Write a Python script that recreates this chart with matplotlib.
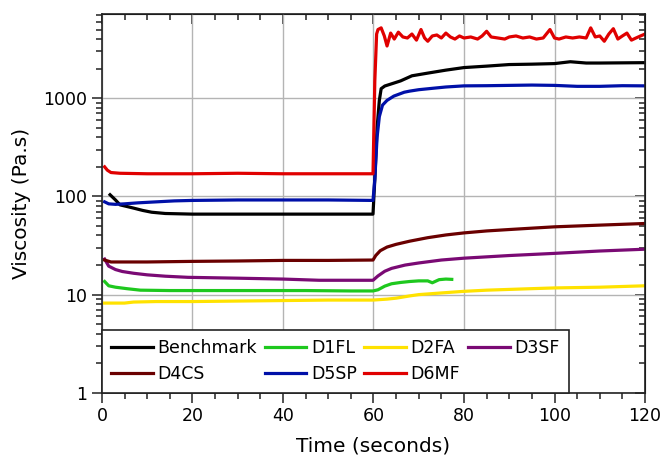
import matplotlib
matplotlib.use("Agg")
import matplotlib.pyplot as plt
from matplotlib.ticker import LogLocator, NullFormatter, FixedLocator, MultipleLocator

# Данные
t_bench = [1.8, 3, 4, 5.5, 7, 9, 11, 14, 20, 30, 40, 50, 59.9, 60.3, 60.8, 61.3, 61.7, 62.5, 64, 66, 68.5,
           72, 76, 80, 85, 90, 95, 100, 103.5, 107, 110, 115, 120]
v_bench = [104, 92, 82, 79, 76, 72, 69, 67, 66, 66, 66, 66, 66, 150, 500, 950, 1250, 1330, 1400, 1500, 1690,
           1800, 1930, 2050, 2120, 2200, 2220, 2250, 2350, 2280, 2280, 2290, 2300]

t_d1fl = [0.6, 1.5, 3, 5.5, 8.5, 15, 25, 35, 45, 55, 59.9, 61, 62.5, 64, 66, 68, 70, 72, 73, 74.5, 76, 77.3]
v_d1fl = [13.6, 12.3, 11.9, 11.5, 11.1, 11.0, 11.0, 11.0, 11.0, 10.9, 10.9, 11.2, 12.2, 12.9, 13.3, 13.6,
          13.8, 13.8, 13.2, 14.2, 14.4, 14.3]

t_d2fa = [0.6, 5, 7, 12, 20, 30, 40, 50, 59.9, 63, 65, 68, 70, 75, 80, 85, 90, 95, 100, 110, 120]
v_d2fa = [8.2, 8.2, 8.4, 8.5, 8.5, 8.6, 8.7, 8.8, 8.8, 9.0, 9.2, 9.7, 10.0, 10.4, 10.8, 11.1, 11.3, 11.5,
          11.7, 11.9, 12.3]

t_d3sf = [0.6, 1.5, 3, 4.5, 7, 10, 14, 19, 30, 40, 48, 59.9, 61, 62.5, 64, 67, 70, 75, 80, 90, 100, 110, 120]
v_d3sf = [23, 19.5, 18, 17.2, 16.5, 15.9, 15.4, 15.0, 14.7, 14.4, 14.0, 14.0, 15.5, 17.3, 18.5, 20, 21, 22.5,
          23.5, 25, 26.3, 27.8, 29]

t_d4cs = [0.6, 2, 10, 20, 30, 40, 50, 59.9, 60.5, 61.5, 63, 65, 68, 72, 76, 80, 85, 90, 95, 100, 110, 120]
v_d4cs = [22.5, 21.5, 21.5, 21.8, 22, 22.3, 22.3, 22.5, 25, 28, 30.5, 32.5, 35, 38, 40.5, 42.5, 44.5, 46,
          47.5, 49, 51, 53]

t_d5sp = [0.6, 1.5, 3, 5, 8, 12, 16, 20, 30, 40, 50, 59.9, 60.3, 60.8, 61.3, 62, 63, 64.5, 66.8, 68, 70, 73,
          76, 80, 85, 90, 95, 100, 105, 110, 115, 120]
v_d5sp = [88, 84, 83, 84, 86, 88, 90, 91, 92, 92, 92, 91, 150, 400, 650, 850, 950, 1050, 1150, 1180, 1220,
          1260, 1300, 1335, 1340, 1350, 1360, 1350, 1320, 1320, 1340, 1335]

t_d6mf = [0.6, 1.2, 2, 4, 10, 20, 30, 40, 50, 59.9, 60.3, 60.7,
          61, 61.7, 62.4, 63, 63.8, 64.6, 65.5, 66.5, 67.5, 68.5, 69.5, 70.5, 71.3, 72, 73, 74, 75, 76, 77,
          78, 79, 80, 81.5, 83, 84, 85, 86, 87.5, 89, 90, 91.5, 93, 94.5, 96, 97.5, 99, 100, 101, 102.5,
          104, 105.5, 107, 108, 109, 110, 111, 112, 113, 114, 115, 116, 117, 118, 119, 120]
v_d6mf = [200, 185, 175, 172, 170, 170, 172, 170, 170, 170, 1500, 4500,
          5000, 5200, 4300, 3400, 4600, 4000, 4700, 4200, 4100, 4500, 3900, 5000, 4100, 3800, 4300, 4400,
          4100, 4600, 4200, 4000, 4300, 4100, 4200, 4000, 4300, 4800, 4200, 4100, 4000, 4200, 4300, 4100,
          4200, 4000, 4100, 5000, 4100, 4000, 4200, 4100, 4200, 4100, 5200, 4200, 4300, 3800, 4500, 5100,
          4000, 4300, 4600, 3900, 4100, 4300, 4500]

series = [
    ("Benchmark", t_bench, v_bench, "#000000"),
    ("D1FL", t_d1fl, v_d1fl, "#1ec81e"),
    ("D2FA", t_d2fa, v_d2fa, "#ffe200"),
    ("D3SF", t_d3sf, v_d3sf, "#7a0a74"),
    ("D4CS", t_d4cs, v_d4cs, "#6a0000"),
    ("D5SP", t_d5sp, v_d5sp, "#0010a8"),
    ("D6MF", t_d6mf, v_d6mf, "#e00000"),
]

fig = plt.figure(figsize=(6.66, 4.66), dpi=100)
ax = fig.add_axes([0.153, 0.157, 0.8155, 0.813])

lines = {}
for name, t, v, c in series:
    ln, = ax.plot(t, v, color=c, lw=2.3, label=name)
    lines[name] = ln

ax.set_yscale("log")
ax.set_xlim(0, 120)
ax.set_ylim(1, 7200)
ax.xaxis.set_major_locator(MultipleLocator(20))
ax.xaxis.set_minor_locator(MultipleLocator(5))
ax.yaxis.set_major_locator(FixedLocator([1, 10, 100, 1000]))
ax.yaxis.set_major_formatter(plt.FuncFormatter(lambda y, p: f"{y:g}"))
ax.yaxis.set_minor_locator(LogLocator(base=10, subs=range(2, 10)))
ax.yaxis.set_minor_formatter(NullFormatter())
ax.grid(True, which="major", color="#b4b4b4", lw=1)
ax.set_axisbelow(True)

ax.tick_params(which="both", direction="out", labelsize=12.5, width=1.1, color="#222222")
ax.tick_params(which="major", length=7)
ax.tick_params(which="minor", length=4.5)
for s in ax.spines.values():
    s.set_linewidth(1.2)
    s.set_color("#222222")

# верх и право: засечки внутрь, без подписей
top = ax.secondary_xaxis("top")
top.xaxis.set_major_locator(MultipleLocator(20))
top.xaxis.set_minor_locator(MultipleLocator(5))
top.tick_params(which="both", direction="in", labeltop=False, width=1.1, color="#222222")
top.tick_params(which="major", length=7)
top.tick_params(which="minor", length=4.5)
right = ax.secondary_yaxis("right")
right.yaxis.set_major_locator(FixedLocator([1, 10, 100, 1000]))
right.yaxis.set_minor_locator(LogLocator(base=10, subs=range(2, 10)))
right.tick_params(which="both", direction="in", labelright=False, width=1.1, color="#222222")
right.tick_params(which="major", length=7)
right.tick_params(which="minor", length=4.5)

ax.set_xlabel("Time (seconds)", fontsize=14.5, labelpad=8)
ax.set_ylabel("Viscosity (Pa.s)", fontsize=14.5, labelpad=9)

order = ["Benchmark", "D4CS", "D1FL", "D5SP", "D2FA", "D6MF", "D3SF"]
leg = ax.legend([lines[n] for n in order], order, ncol=4, loc="lower left", bbox_to_anchor=(0, 0),
                borderaxespad=0, fontsize=12.5, fancybox=False, framealpha=1, edgecolor="#222222",
                handlelength=2.4, handletextpad=0.25, columnspacing=0.45, labelspacing=0.45,
                borderpad=0.55)
leg.get_frame().set_linewidth(1.2)

fig.savefig("out.png", dpi=100)
